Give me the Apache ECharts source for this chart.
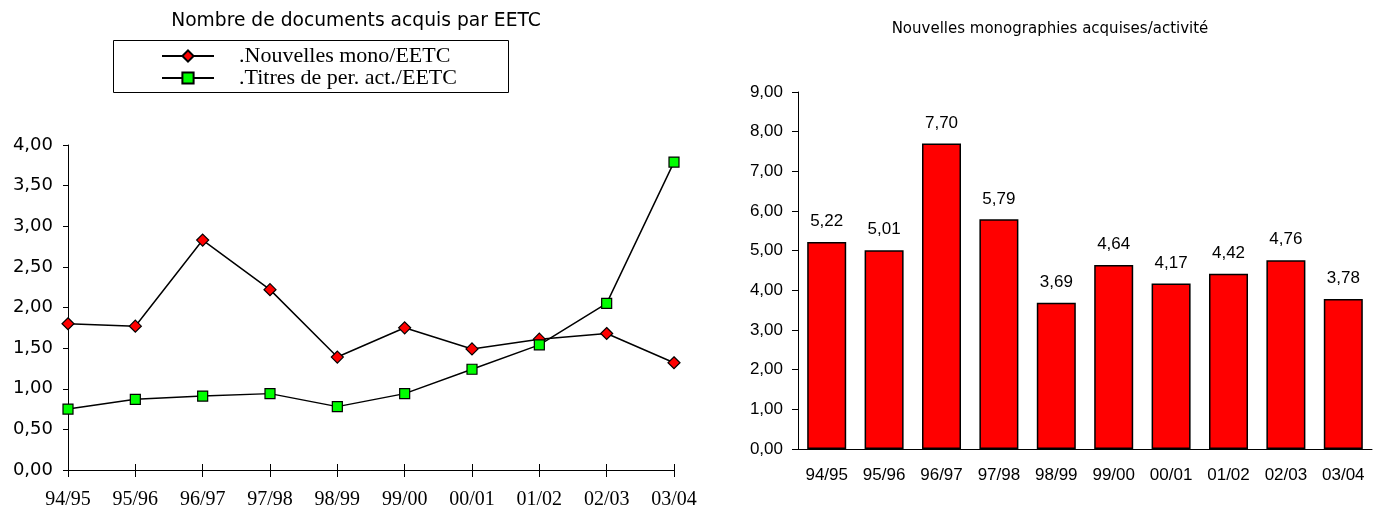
<!DOCTYPE html>
<html>
<head>
<meta charset="utf-8">
<script src="https://cdn.jsdelivr.net/npm/echarts@6/dist/echarts.min.js"></script>
<style>
  html, body { margin: 0; padding: 0; background: #fff; }
  #chart { width: 1382px; height: 512px; }
</style>
</head>
<body>
<div id="chart"></div>
<script>
// years shared by both charts
const categories = ['94/95', '95/96', '96/97', '97/98', '98/99', '99/00', '00/01', '01/02', '02/03', '03/04'];

// left chart: documents per EETC
const monoEetc = [1.80, 1.77, 2.83, 2.22, 1.39, 1.75, 1.49, 1.61, 1.68, 1.32];
const titresEetc = [0.75, 0.87, 0.91, 0.94, 0.78, 0.94, 1.24, 1.54, 2.05, 3.79];

// right chart: new monographs per activity
const monoActivite = [5.22, 5.01, 7.70, 5.79, 3.69, 4.64, 4.17, 4.42, 4.76, 3.78];

const fmt = v => v.toFixed(2).replace('.', ',');

const sans = 'DejaVu Sans';
const arial = 'Liberation Sans';
const serif = 'Liberation Serif';

const chart = echarts.init(document.getElementById('chart'), null, { renderer: 'canvas' });

chart.setOption({
  animation: false,
  backgroundColor: '#fff',
  graphic: [
    { type: 'rect', shape: { x: 113.5, y: 40.5, width: 395, height: 52 },
      style: { fill: '#fff', stroke: '#000', lineWidth: 1 }, z: 0 },
    { type: 'text', x: 356, y: 21,
      style: { text: 'Nombre de documents acquis par EETC', textAlign: 'center', textVerticalAlign: 'middle',
               font: '18.7px "' + sans + '"', fill: '#000' } },
    { type: 'text', x: 1050, y: 29,
      style: { text: 'Nouvelles monographies acquises/activité', textAlign: 'center', textVerticalAlign: 'middle',
               font: '15px "' + sans + '"', fill: '#000' } }
  ],
  legend: {
    left: 161, top: 45, orient: 'vertical', padding: 0,
    itemWidth: 52, itemHeight: 14, itemGap: 0,
    selectedMode: false, z: 5,
    textStyle: { fontFamily: serif, fontSize: 22, color: '#000', padding: [0, 0, 0, 20] },
    data: ['.Nouvelles mono/EETC', '.Titres de per. act./EETC']
  },
  grid: [
    { left: 68, right: 708, top: 145, bottom: 42 },
    { left: 798, right: 10, top: 92, bottom: 63 }
  ],
  xAxis: [
    { type: 'category', gridIndex: 0, data: categories, boundaryGap: false,
      axisLine: { lineStyle: { color: '#000', width: 1 } },
      axisTick: { length: 7, lineStyle: { color: '#000' } },
      axisLabel: { fontFamily: serif, fontSize: 20, color: '#000', margin: 20 } },
    { type: 'category', gridIndex: 0, data: categories, boundaryGap: false, position: 'bottom',
      axisLine: { show: false },
      axisTick: { inside: true, length: 6, lineStyle: { color: '#000' } },
      axisLabel: { show: false } },
    { type: 'category', gridIndex: 1, data: categories,
      axisLine: { lineStyle: { color: '#000', width: 1 } },
      axisTick: { length: 4, lineStyle: { color: '#000' } },
      axisLabel: { fontFamily: arial, fontSize: 17, color: '#000', margin: 18 } },
    { type: 'category', gridIndex: 1, data: categories, position: 'bottom',
      axisLine: { show: false },
      axisTick: { inside: true, length: 6, lineStyle: { color: '#000' } },
      axisLabel: { show: false } }
  ],
  yAxis: [
    { type: 'value', gridIndex: 0, min: 0, max: 4, interval: 0.5,
      splitLine: { show: false },
      axisLine: { show: true, lineStyle: { color: '#000', width: 1 } },
      axisTick: { show: true, length: 5, lineStyle: { color: '#000' } },
      axisLabel: { fontFamily: sans, fontSize: 18, color: '#000', margin: 15, formatter: fmt } },
    { type: 'value', gridIndex: 1, min: 0, max: 9, interval: 1,
      splitLine: { show: false },
      axisLine: { show: true, lineStyle: { color: '#000', width: 1 } },
      axisTick: { show: true, length: 6, lineStyle: { color: '#000' } },
      axisLabel: { fontFamily: arial, fontSize: 17, color: '#000', margin: 15, formatter: fmt } }
  ],
  series: [
    { name: '.Nouvelles mono/EETC', type: 'line', xAxisIndex: 0, yAxisIndex: 0, data: monoEetc,
      symbol: 'diamond', symbolSize: 12,
      lineStyle: { color: '#000', width: 1.5 },
      itemStyle: { color: '#ff0000', borderColor: '#000', borderWidth: 1.2 } },
    { name: '.Titres de per. act./EETC', type: 'line', xAxisIndex: 0, yAxisIndex: 0, data: titresEetc,
      symbol: 'rect', symbolSize: 10,
      lineStyle: { color: '#000', width: 1.5 },
      itemStyle: { color: '#00ff00', borderColor: '#000', borderWidth: 1.2 } },
    { name: 'activite', type: 'bar', xAxisIndex: 2, yAxisIndex: 1, data: monoActivite,
      barWidth: 39,
      itemStyle: { color: '#ff0000', borderColor: '#000', borderWidth: 1.5 },
      label: { show: true, position: 'top', distance: 12, fontFamily: arial, fontSize: 17, color: '#000',
               formatter: p => fmt(p.value) } }
  ]
});
</script>
</body>
</html>
